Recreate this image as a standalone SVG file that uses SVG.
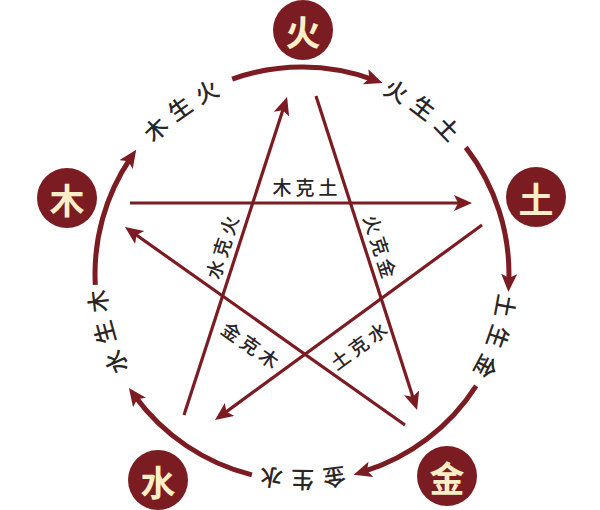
<svg xmlns="http://www.w3.org/2000/svg" width="600" height="510" viewBox="0 0 600 510">
<style>
.ring{fill:none;stroke:#7b1c22;stroke-width:5}
.ke{fill:none;stroke:#7b1c22;stroke-width:3.2}
.node circle{fill:#7b1c22}
.node text{fill:#fbedc6;font-family:"Noto Sans CJK SC","Noto Sans CJK TC",sans-serif;font-size:35px;font-weight:bold;text-anchor:middle;dominant-baseline:central}
.sheng{fill:#2b2526;font-family:"Noto Sans CJK SC",sans-serif;font-size:23px;font-weight:500;letter-spacing:9px;dominant-baseline:central}
.kel{fill:#2b2526;font-family:"Noto Sans CJK SC",sans-serif;font-size:19px;font-weight:500;letter-spacing:4px;text-anchor:middle;dominant-baseline:central}
</style>
<defs>
<marker id="ah" markerUnits="userSpaceOnUse" markerWidth="20" markerHeight="18" refX="8" refY="8" orient="auto">
<path d="M0,0 L18,8 L0,16 L4,8 z" fill="#7b1c22"/>
</marker>
<path id="circ" d="M 509 274 A 207 207 0 1 1 95 274 A 207 207 0 1 1 509 274"/>
</defs>
<rect width="600" height="510" fill="#ffffff"/>
<g id="connectors">
<path class="ring" marker-end="url(#ah)" d="M 232.2 79.1 A 207 207 0 0 1 373.1 79.6"/>
<path class="ring" marker-end="url(#ah)" d="M 465.8 147.4 A 207 207 0 0 1 508.8 281.9"/>
<path class="ring" marker-end="url(#ah)" d="M 476.2 385.8 A 207 207 0 0 1 363.2 471.7"/>
<path class="ring" marker-end="url(#ah)" d="M 251.9 474.9 A 207 207 0 0 1 134.8 396.0"/>
<path class="ring" marker-end="url(#ah)" d="M 95.3 284.8 A 207 207 0 0 1 130.6 158.0"/>
<line class="ke" marker-end="url(#ah)" x1="130" y1="203" x2="462" y2="203"/>
<line class="ke" marker-end="url(#ah)" x1="184" y1="415" x2="284" y2="106.5"/>
<line class="ke" marker-end="url(#ah)" x1="316" y1="96" x2="414" y2="400.5"/>
<line class="ke" marker-end="url(#ah)" x1="405" y1="425" x2="133.2" y2="232.8"/>
<line class="ke" marker-end="url(#ah)" x1="482" y1="225" x2="223.1" y2="414.1"/>
<text class="sheng"><textPath href="#circ" startOffset="848" text-anchor="middle">木生火</textPath></text>
<text class="sheng"><textPath href="#circ" startOffset="1110" text-anchor="middle">火生土</textPath></text>
<text class="sheng"><textPath href="#circ" startOffset="69" text-anchor="middle">土生金</textPath></text>
<text class="sheng"><textPath href="#circ" startOffset="329" text-anchor="middle">金生水</textPath></text>
<text class="sheng"><textPath href="#circ" startOffset="595" text-anchor="middle">水生木</textPath></text>
<text class="kel" x="307" y="186">木克土</text>
<text class="kel" transform="translate(221,247) rotate(-72.4)" x="2" y="0">水克火</text>
<text class="kel" transform="translate(381,246) rotate(72.1)" x="2" y="0">火克金</text>
<text class="kel" transform="translate(251,344) rotate(35.3)" x="2" y="0">金克木</text>
<text class="kel" transform="translate(358,345) rotate(-36.2)" x="2" y="0">土克水</text>
</g>
<g id="huo" class="node"><circle cx="303" cy="30" r="30"/><text x="303" y="30">火</text></g>
<g id="mu" class="node"><circle cx="67" cy="198" r="30"/><text x="67" y="198">木</text></g>
<g id="tu" class="node"><circle cx="536" cy="197" r="30"/><text x="536" y="197">土</text></g>
<g id="shui" class="node"><circle cx="158" cy="480" r="30"/><text x="158" y="480">水</text></g>
<g id="jin" class="node"><circle cx="447" cy="476" r="30"/><text x="447" y="476">金</text></g>
</svg>
